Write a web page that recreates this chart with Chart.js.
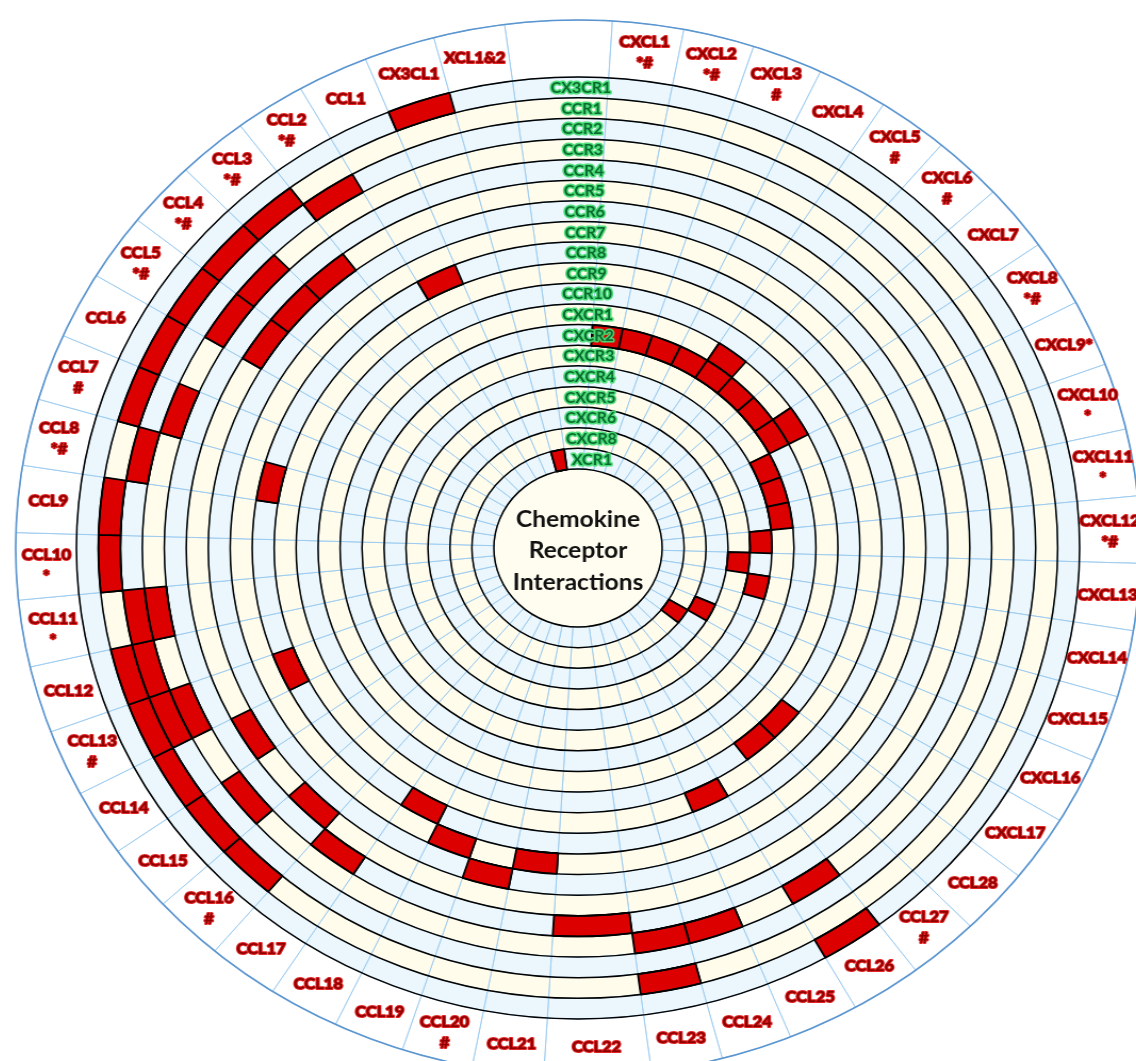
<!DOCTYPE html>
<html>
<head>
<meta charset="utf-8">
<script src="https://cdn.jsdelivr.net/npm/chart.js@4/dist/chart.umd.min.js"></script>
<style>
  html, body { margin: 0; padding: 0; background: #ffffff; overflow: hidden; width: 1136px; height: 1061px; }
  #wrap { position: absolute; left: 38px; top: 8px; width: 1080px; height: 1080px;
          transform: scaleX(1.065); transform-origin: 540px 540px; }
</style>
</head>
<body>
<div id="wrap"><canvas id="wheel" width="1080" height="1080"></canvas></div>
<script>
// Chemokine segments, clockwise from the top (first entry is the empty gap).
const ligandNames = [
  '', 'CXCL1', 'CXCL2', 'CXCL3', 'CXCL4', 'CXCL5', 'CXCL6', 'CXCL7', 'CXCL8', 'CXCL9*',
  'CXCL10', 'CXCL11', 'CXCL12', 'CXCL13', 'CXCL14', 'CXCL15', 'CXCL16', 'CXCL17',
  'CCL28', 'CCL27', 'CCL26', 'CCL25', 'CCL24', 'CCL23', 'CCL22', 'CCL21', 'CCL20',
  'CCL19', 'CCL18', 'CCL17', 'CCL16', 'CCL15', 'CCL14', 'CCL13', 'CCL12', 'CCL11',
  'CCL10', 'CCL9', 'CCL8', 'CCL7', 'CCL6', 'CCL5', 'CCL4', 'CCL3', 'CCL2', 'CCL1',
  'CX3CL1', 'XCL1&2'
];
// Footnote marks printed under each chemokine name.
const ligandMarks = [
  '', '*#', '*#', '#', '', '#', '#', '', '*#', '',
  '*', '*', '*#', '', '', '', '', '',
  '', '#', '', '', '', '', '', '', '#',
  '', '', '', '#', '', '', '#', '', '*',
  '*', '', '*#', '#', '', '*#', '*#', '*#', '*#', '',
  '', ''
];
// Angular share of each segment (the gap and CCL22 are wider).
const segmentSpan = [
  1.5, 1, 1, 1, 1, 1, 1, 1, 1, 1,
  1, 1, 1, 1, 1, 1, 1, 1,
  1, 1, 1, 1, 1, 1, 1.5, 1, 1,
  1, 1, 1, 1, 1, 1, 1, 1, 1,
  1, 1, 1, 1, 1, 1, 1, 1, 1, 1,
  1, 1
];
// Receptor rings, outermost first.
const receptors = [
  'CX3CR1', 'CCR1', 'CCR2', 'CCR3', 'CCR4', 'CCR5', 'CCR6', 'CCR7', 'CCR8', 'CCR9', 'CCR10',
  'CXCR1', 'CXCR2', 'CXCR3', 'CXCR4', 'CXCR5', 'CXCR6', 'CXCR8', 'XCR1'
];
// Ligands that bind each receptor (same order as receptors).
const boundLigands = [
  ['CX3CL1', 'CCL26'],
  ['CCL3', 'CCL4', 'CCL5', 'CCL6', 'CCL7', 'CCL9', 'CCL10', 'CCL12', 'CCL13', 'CCL14', 'CCL15', 'CCL16', 'CCL23'],
  ['CCL2', 'CCL8', 'CCL11', 'CCL12', 'CCL13'],
  ['CCL4', 'CCL5', 'CCL7', 'CCL11', 'CCL13', 'CCL15', 'CCL23', 'CCL24', 'CCL26'],
  ['CCL17', 'CCL22'],
  ['CCL3', 'CCL4', 'CCL5', 'CCL14', 'CCL16'],
  ['CCL20'],
  ['CCL19', 'CCL21'],
  ['CCL1', 'CCL8', 'CCL13', 'CCL18'],
  ['CCL25'],
  ['CCL27', 'CCL28'],
  ['CXCL5', 'CXCL8'],
  ['CXCL1', 'CXCL2', 'CXCL3', 'CXCL4', 'CXCL5', 'CXCL6', 'CXCL7', 'CXCL8'],
  ['CXCL9*', 'CXCL10', 'CXCL11'],
  ['CXCL12', 'CXCL14'],
  ['CXCL13'],
  ['CXCL16'],
  ['CXCL17'],
  ['XCL1&2']
];
const centerTitle = ['Chemokine', 'Receptor', 'Interactions'];

const RED = '#dc0000';
const RING_BLUE = '#ebf7fd';
const RING_CREAM = '#fffcec';
const SPOKE = '#9ccbef';
const FONT = 'Lato, "Open Sans", sans-serif';

const datasets = [{
  label: 'chemokines',
  data: segmentSpan,
  backgroundColor: ligandNames.map(() => '#ffffff'),
  borderColor: SPOKE,
  borderWidth: 1,
  weight: 2.763,
  hoverOffset: 0
}];
receptors.forEach((rec, i) => {
  const base = i % 2 === 0 ? RING_BLUE : RING_CREAM;
  const hits = boundLigands[i];
  datasets.push({
    label: rec,
    data: segmentSpan,
    backgroundColor: ligandNames.map(n => hits.includes(n) ? RED : base),
    borderColor: ligandNames.map(n => hits.includes(n) ? '#000000' : SPOKE),
    borderWidth: ligandNames.map(n => hits.includes(n) ? 1.8 : 1),
    weight: 1,
    hoverOffset: 0
  });
});

function haloText(ctx, text, x, y, fill, halo, hw) {
  ctx.lineJoin = 'round';
  ctx.strokeStyle = halo;
  ctx.lineWidth = hw;
  ctx.strokeText(text, x, y);
  ctx.fillStyle = fill;
  ctx.fillText(text, x, y);
}

const wheelDecor = {
  id: 'wheelDecor',
  beforeDatasetsDraw(chart) {
    const inner = chart.getDatasetMeta(chart.data.datasets.length - 1).data[0];
    const ctx = chart.ctx;
    ctx.save();
    ctx.beginPath();
    ctx.arc(inner.x, inner.y, inner.innerRadius, 0, Math.PI * 2);
    ctx.fillStyle = '#fffdf0';
    ctx.fill();
    ctx.restore();
  },
  afterDatasetsDraw(chart) {
    const ctx = chart.ctx;
    const n = chart.data.datasets.length;
    // interaction cells on top so their outlines stay whole
    for (let i = 1; i < n; i++) {
      const ds = chart.data.datasets[i];
      chart.getDatasetMeta(i).data.forEach((arc, j) => {
        if (ds.backgroundColor[j] === RED) arc.draw(ctx);
      });
    }
    ctx.save();
    const outer = chart.getDatasetMeta(0).data[0];
    ctx.beginPath();
    ctx.arc(outer.x, outer.y, outer.outerRadius, 0, Math.PI * 2);
    ctx.strokeStyle = '#5b95cf';
    ctx.lineWidth = 1.6;
    ctx.stroke();
    ctx.strokeStyle = '#000000';
    ctx.lineWidth = 1.5;
    for (let i = 1; i < n; i++) {
      const a = chart.getDatasetMeta(i).data[0];
      ctx.beginPath();
      ctx.arc(a.x, a.y, a.outerRadius, 0, Math.PI * 2);
      ctx.stroke();
      if (i === n - 1) {
        ctx.beginPath();
        ctx.arc(a.x, a.y, a.innerRadius, 0, Math.PI * 2);
        ctx.stroke();
      }
    }
    ctx.restore();
  },
  afterDraw(chart) {
    const ctx = chart.ctx;
    ctx.save();
    ctx.textAlign = 'center';
    ctx.textBaseline = 'middle';
    // chemokine names around the rim
    ctx.font = 'bold 15.5px ' + FONT;
    chart.getDatasetMeta(0).data.forEach((arc, j) => {
      const name = ligandNames[j];
      if (!name) return;
      const mid = (arc.startAngle + arc.endAngle) / 2;
      const r = (arc.innerRadius + arc.outerRadius) / 2;
      const x = arc.x + r * Math.cos(mid);
      const y = arc.y + r * Math.sin(mid);
      const mark = ligandMarks[j];
      if (mark) {
        haloText(ctx, name, x, y - 10, '#8c0000', '#e22424', 2);
        haloText(ctx, mark, x, y + 11, '#8c0000', '#e22424', 2);
      } else {
        haloText(ctx, name, x, y, '#8c0000', '#e22424', 2);
      }
    });
    // receptor names on each ring at the top
    ctx.font = 'bold 15px ' + FONT;
    const last = receptors.length - 1;
    receptors.forEach((rec, i) => {
      const a = chart.getDatasetMeta(i + 1).data[0];
      const r = (a.innerRadius + a.outerRadius) / 2;
      const dx = (3 + 11 * i / last) / 1.065;
      haloText(ctx, rec, a.x + dx, a.y - r + 1, '#0a6a30', 'rgba(70,220,115,0.95)', 3);
    });
    // title in the hole
    const c = chart.getDatasetMeta(1).data[0];
    ctx.font = 'bold 23px ' + FONT;
    ctx.fillStyle = '#111111';
    centerTitle.forEach((t, k) => ctx.fillText(t, c.x, c.y + 3 + (k - 1) * 31.5));
    ctx.restore();
  }
};

new Chart(document.getElementById('wheel'), {
  type: 'doughnut',
  data: { labels: ligandNames, datasets },
  options: {
    responsive: false,
    animation: false,
    events: [],
    rotation: -7.51,
    circumference: 360,
    radius: 528,
    cutout: (79 / 528 * 100).toFixed(3) + '%',
    layout: { padding: 0 },
    plugins: { legend: { display: false }, tooltip: { enabled: false } }
  },
  plugins: [wheelDecor]
});
</script>
</body>
</html>
